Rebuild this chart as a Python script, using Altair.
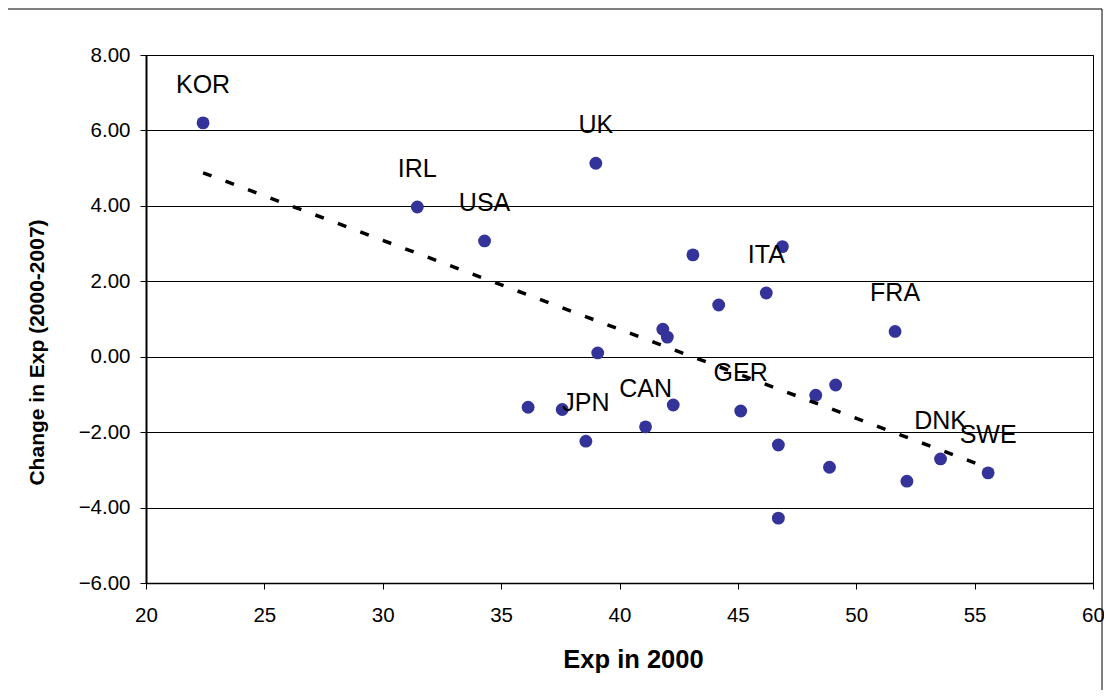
import altair as alt
import pandas as pd

# Values
exp_2000 = [22.41, 31.46, 34.30, 39.00, 39.08, 36.14, 37.58, 38.58, 43.10, 46.88,
            46.20, 44.19, 41.83, 42.02, 51.64, 49.13, 48.29, 42.27, 45.12, 41.10,
            46.71, 48.87, 52.14, 53.56, 55.57, 46.71]
change_exp = [6.20, 3.97, 3.07, 5.13, 0.10, -1.34, -1.40, -2.24, 2.70, 2.92,
              1.69, 1.37, 0.73, 0.52, 0.67, -0.75, -1.02, -1.28, -1.44, -1.86,
              -2.34, -2.93, -3.30, -2.71, -3.08, -4.28]
labels = ["KOR", "IRL", "USA", "UK", "", "", "", "JPN", "", "",
          "ITA", "", "", "", "FRA", "", "", "", "GER", "CAN",
          "", "", "", "DNK", "SWE", ""]

x_ticks = [20, 25, 30, 35, 40, 45, 50, 55, 60]
y_ticks = [-6, -4, -2, 0, 2, 4, 6, 8]

df = pd.DataFrame({"exp": exp_2000, "chg": change_exp, "label": labels})

FONT = "Liberation Sans"

x_enc = alt.X(
    "exp:Q",
    scale=alt.Scale(domain=[20, 60], nice=False, zero=False),
    axis=alt.Axis(
        values=x_ticks, title="Exp in 2000", grid=False,
        labelFontSize=20.5, labelPadding=16, tickSize=6, labelFlush=False,
        titleFontSize=25.5, titleFontWeight="bold",
        titleX=487, titleY=84, titleBaseline="alphabetic", titleAlign="center",
        domainWidth=1.5,
    ),
)
y_enc = alt.Y(
    "chg:Q",
    scale=alt.Scale(domain=[-6, 8], nice=False, zero=False),
    axis=alt.Axis(
        values=y_ticks, format=".2f", title="Change in Exp (2000-2007)",
        grid=True, gridColor="#000000", gridWidth=1, gridOpacity=1,
        labelFontSize=20.5, labelPadding=10, tickSize=6, labelFlush=False,
        titleFontSize=21, titleFontWeight="bold",
        titleX=-109, titleY=297, titleAngle=270, titleBaseline="middle",
        titleAlign="center", domainWidth=2,
    ),
)

base = alt.Chart(df)

frame = alt.Chart(pd.DataFrame({"f": [0]})).mark_rect(
    fill="transparent", stroke="black", strokeWidth=1, clip=False
).encode(
    x=alt.value(-139), x2=alt.value(956), y=alt.value(-46), y2=alt.value(720)
)

points = base.mark_point(
    filled=True, shape="circle", size=165, color="#333399", opacity=1
).encode(x=x_enc, y=y_enc)

text = base.transform_filter(alt.datum.label != "").mark_text(
    dy=-30, baseline="alphabetic", align="center", fontSize=25, font=FONT,
    color="black",
).encode(x="exp:Q", y="chg:Q", text="label:N")

trend = base.transform_regression("exp", "chg").mark_line(
    color="black", strokeDash=[9, 15], strokeWidth=3.5
).encode(x="exp:Q", y="chg:Q")

chart = alt.layer(frame, points, text, trend).properties(
    width=947,
    height=528,
    autosize=alt.AutoSizeParams(type="none"),
    padding={"left": 138, "top": 47, "right": 11, "bottom": 107},
    background="white",
).configure_view(
    stroke="black", strokeWidth=1
).configure_axis(
    labelFont=FONT, titleFont=FONT, labelColor="black", titleColor="black",
    domainColor="black", tickColor="black", tickWidth=1,
)

chart.save("out.html", embed_options={"renderer": "svg", "actions": False})
